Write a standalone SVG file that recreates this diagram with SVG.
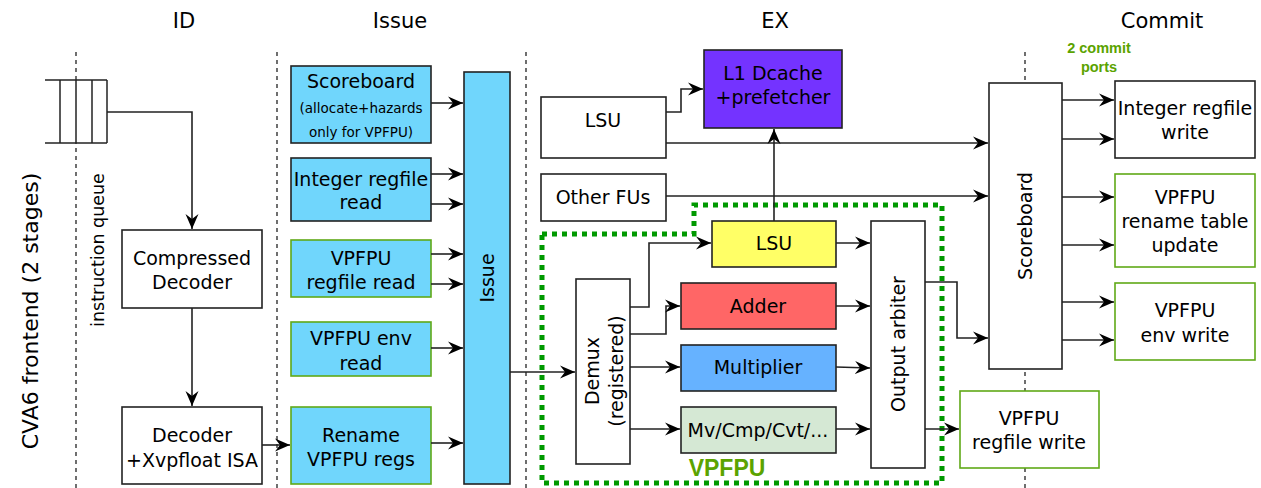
<svg xmlns="http://www.w3.org/2000/svg" width="1261" height="488" viewBox="0 0 1261 488">
<defs>
<marker id="ah" markerWidth="16" markerHeight="14" refX="15" refY="7" orient="auto" markerUnits="userSpaceOnUse">
<path d="M0,0.5 L15,7 L0,13.5 L5,7 Z" fill="#000"/>
</marker>
<style>
text{font-family:"DejaVu Sans",Verdana,sans-serif;fill:#000}
.hdr{font-size:21px;text-anchor:middle}
.t{font-size:19px;text-anchor:middle}
.s{font-size:13.5px;text-anchor:middle}
.box{stroke:#222;stroke-width:1.6}
.w{fill:#fff}
.blue{fill:#70d6fc}
.g{stroke:#60a917}
.dash{stroke:#222;stroke-width:1.3;stroke-dasharray:4 4;fill:none}
.ln{stroke:#222;stroke-width:1.5;fill:none}
.ar{stroke:#222;stroke-width:1.6;fill:none;marker-end:url(#ah)}
.grn{font-family:"Liberation Sans",Arial,sans-serif;font-weight:bold;fill:#5ba300;text-anchor:middle}
</style>
</defs>

<g id="stage-lines">
<line class="dash" x1="76" y1="52" x2="76" y2="488"/>
<line class="dash" x1="277" y1="52" x2="277" y2="488"/>
<line class="dash" x1="526" y1="52" x2="526" y2="488"/>
<line class="dash" x1="1025" y1="52" x2="1025" y2="488"/>
</g>

<g id="headers">
<text class="hdr" x="184" y="28">ID</text>
<text class="hdr" x="400" y="28">Issue</text>
<text class="hdr" x="775" y="28">EX</text>
<text class="hdr" x="1162" y="28">Commit</text>
</g>

<g id="frontend-label">
<text font-size="22" text-anchor="middle" transform="translate(38,311) rotate(-90)">CVA6 frontend (2 stages)</text>
</g>

<g id="instruction-queue">
<rect x="45" y="80" width="62" height="63" fill="#fff" stroke="none"/>
<line class="ln" x1="45" y1="80" x2="107" y2="80"/>
<line class="ln" x1="45" y1="143" x2="107" y2="143"/>
<line class="ln" x1="60" y1="80" x2="60" y2="143"/>
<line class="ln" x1="76" y1="80" x2="76" y2="143"/>
<line class="ln" x1="92" y1="80" x2="92" y2="143"/>
<line class="ln" x1="107" y1="80" x2="107" y2="143"/>
<text font-size="17.5" text-anchor="middle" transform="translate(104,250) rotate(-90)">instruction queue</text>
</g>

<g id="compressed-decoder">
<rect class="box w" x="122" y="230" width="140" height="78"/>
<text class="t" x="192" y="265">Compressed</text>
<text class="t" x="192" y="289">Decoder</text>
</g>

<g id="decoder">
<rect class="box w" x="122" y="407" width="140" height="77"/>
<text class="t" x="192" y="442">Decoder</text>
<text class="t" x="192" y="467">+Xvpfloat ISA</text>
</g>

<g id="issue-scoreboard">
<rect class="box blue" x="291" y="66" width="140" height="77"/>
<text class="t" x="361" y="88">Scoreboard</text>
<text class="s" x="361" y="113">(allocate+hazards</text>
<text class="s" x="361" y="137">only for VPFPU)</text>
</g>

<g id="int-regfile-read">
<rect class="box blue" x="291" y="158" width="140" height="63"/>
<text class="t" x="361" y="186">Integer regfile</text>
<text class="t" x="361" y="209">read</text>
</g>

<g id="vpfpu-regfile-read">
<rect class="box blue g" x="291" y="240" width="140" height="57"/>
<text class="t" x="361" y="265">VPFPU</text>
<text class="t" x="361" y="289">regfile read</text>
</g>

<g id="vpfpu-env-read">
<rect class="box blue g" x="291" y="322" width="140" height="54"/>
<text class="t" x="361" y="345">VPFPU env</text>
<text class="t" x="361" y="370">read</text>
</g>

<g id="rename">
<rect class="box blue g" x="291" y="407" width="140" height="77"/>
<text class="t" x="361" y="442">Rename</text>
<text class="t" x="361" y="466">VPFPU regs</text>
</g>

<g id="issue">
<rect class="box blue" x="464" y="72" width="46" height="412"/>
<text class="t" transform="translate(494,278) rotate(-90)">Issue</text>
</g>

<g id="lsu">
<rect class="box w" x="541" y="97" width="125" height="61"/>
<text class="t" x="603" y="127">LSU</text>
</g>

<g id="other-fus">
<rect class="box w" x="541" y="174" width="125" height="47"/>
<text class="t" x="603" y="204">Other FUs</text>
</g>

<g id="l1-dcache">
<rect class="box" fill="#7433ff" x="704" y="50" width="138" height="78"/>
<text class="t" x="773" y="80">L1 Dcache</text>
<text class="t" x="773" y="104">+prefetcher</text>
</g>

<g id="vpfpu-border">
<path d="M542,234 L694,234 L694,205 L942,205 L942,483 L542,483 Z" fill="none" stroke="#009900" stroke-width="5" stroke-dasharray="5 5"/>
<text class="grn" x="727" y="476" font-size="23">VPFPU</text>
</g>

<g id="demux">
<rect class="box w" x="576" y="279" width="54" height="185"/>
<text class="t" transform="translate(603,371) rotate(-90)"><tspan x="0" y="-4">Demux</tspan><tspan x="0" y="20">(registered)</tspan></text>
</g>

<g id="vpfpu-lsu">
<rect class="box" fill="#ffff66" x="712" y="221" width="124" height="46"/>
<text class="t" x="774" y="250">LSU</text>
</g>

<g id="adder">
<rect class="box" fill="#ff6666" x="681" y="283" width="155" height="46"/>
<text class="t" x="758" y="313">Adder</text>
</g>

<g id="multiplier">
<rect class="box" fill="#66b2ff" x="681" y="345" width="155" height="46"/>
<text class="t" x="758" y="374">Multiplier</text>
</g>

<g id="misc">
<rect class="box" fill="#d5e8d4" x="681" y="407" width="155" height="46"/>
<text class="t" x="758" y="437">Mv/Cmp/Cvt/...</text>
</g>

<g id="output-arbiter">
<rect class="box w" x="871" y="221" width="54" height="247"/>
<text class="t" transform="translate(905,344) rotate(-90)">Output arbiter</text>
</g>

<g id="commit-scoreboard">
<rect class="box w" x="989" y="83" width="73" height="286"/>
<text class="t" transform="translate(1032,226) rotate(-90)">Scoreboard</text>
</g>

<g id="vpfpu-regfile-write">
<rect class="box w g" x="960" y="391" width="139" height="77"/>
<text class="t" x="1029" y="425">VPFPU</text>
<text class="t" x="1029" y="449">regfile write</text>
</g>

<g id="commit-ports-label">
<text class="grn" x="1099" y="53" font-size="14.5">2 commit</text>
<text class="grn" x="1099" y="72" font-size="14.5">ports</text>
</g>

<g id="int-regfile-write">
<rect class="box w" x="1115" y="81" width="140" height="77"/>
<text class="t" x="1185" y="115">Integer regfile</text>
<text class="t" x="1185" y="139">write</text>
</g>

<g id="rename-table-update">
<rect class="box w g" x="1115" y="174" width="140" height="93"/>
<text class="t" x="1185" y="204">VPFPU</text>
<text class="t" x="1185" y="228">rename table</text>
<text class="t" x="1185" y="252">update</text>
</g>

<g id="env-write">
<rect class="box w g" x="1115" y="283" width="140" height="77"/>
<text class="t" x="1185" y="317">VPFPU</text>
<text class="t" x="1185" y="342">env write</text>
</g>

<g id="connectors">
<path class="ar" d="M107,112 L192,112 L192,229"/>
<path class="ar" d="M192,308 L192,406"/>
<path class="ar" d="M262,445 L290,445"/>
<path class="ar" d="M431,103 L463,103"/>
<path class="ar" d="M431,174 L463,174"/>
<path class="ar" d="M431,204 L463,204"/>
<path class="ar" d="M431,254 L463,254"/>
<path class="ar" d="M431,284 L463,284"/>
<path class="ar" d="M431,348 L463,348"/>
<path class="ar" d="M431,443 L463,443"/>
<path class="ar" d="M510,372 L575,372"/>
<path class="ar" d="M666,112 L681,112 L681,89 L703,89"/>
<path class="ar" d="M666,143 L988,143"/>
<path class="ar" d="M666,196 L988,196"/>
<path class="ar" d="M774,221 L774,129"/>
<path class="ar" d="M630,307 L649,307 L649,243 L711,243"/>
<path class="ar" d="M630,334 L666,334 L666,306 L680,306"/>
<path class="ar" d="M630,367 L680,367"/>
<path class="ar" d="M630,429 L680,429"/>
<path class="ar" d="M836,243 L870,243"/>
<path class="ar" d="M836,306 L870,306"/>
<path class="ar" d="M836,367 L870,368"/>
<path class="ar" d="M836,429 L870,429"/>
<path class="ar" d="M925,282 L957,282 L957,338 L988,338"/>
<path class="ar" d="M925,429 L959,429"/>
<path class="ar" d="M1062,100 L1114,100"/>
<path class="ar" d="M1062,139 L1114,139"/>
<path class="ar" d="M1062,197 L1114,197"/>
<path class="ar" d="M1062,245 L1114,245"/>
<path class="ar" d="M1062,302 L1114,302"/>
<path class="ar" d="M1062,340 L1114,340"/>
</g>
</svg>
